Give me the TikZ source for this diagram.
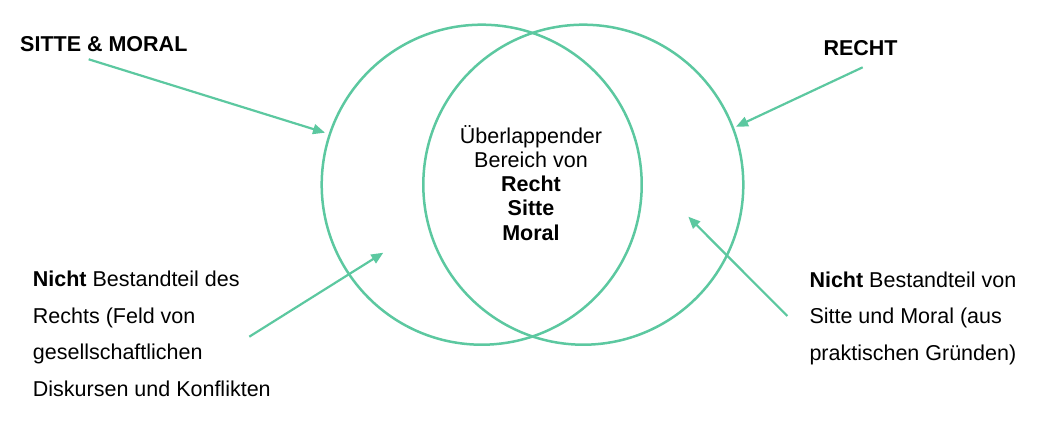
\documentclass[tikz,border=0pt]{standalone}
\usepackage{fontspec}
\setmainfont{Liberation Sans}
\usetikzlibrary{arrows.meta}
\definecolor{venn}{RGB}{92,200,160}
\begin{document}
\begin{tikzpicture}[x=1pt,y=-1pt,
  ring/.style={draw=venn,line width=2.5pt,circle,minimum size=320pt,inner sep=0pt},
  pointer/.style={draw=venn,line width=2.2pt,-{Triangle[length=12pt,width=10pt]}},
  title/.style={font=\fontsize{21.5}{26}\selectfont\bfseries,inner sep=0pt},
  note/.style={font=\fontsize{21.5}{36.8}\selectfont,align=left,inner sep=0pt},
  centre/.style={font=\fontsize{21.5}{24.2}\selectfont,align=center,inner sep=0pt}]
\useasboundingbox (0,0) rectangle (1040,422);
\node[ring] (L) at (481.7,184.7) {};
\node[ring] (R) at (583.3,184.7) {};
\node[title,anchor=base west] (sm) at (20,51.7) {SITTE \& MORAL};
\node[title,anchor=base west] (re) at (823.3,55.7) {RECHT};
\node[centre,anchor=base] (ov) at (531,240) {Überlappender\\Bereich von\\\textbf{Recht}\\\textbf{Sitte}\\\textbf{Moral}};
\node[note,anchor=base west] (nl) at (32.7,396.7) {\textbf{Nicht} Bestandteil des\\Rechts (Feld von\\gesellschaftlichen\\Diskursen und Konflikten};
\node[note,anchor=base west] (nr) at (809.3,360.7) {\textbf{Nicht} Bestandteil von\\Sitte und Moral (aus\\praktischen Gründen)};
\coordinate (smS) at (88.7,59.3);
\coordinate (smE) at (325,132.7);
\coordinate (reS) at (862.7,67.3);
\coordinate (reE) at (736,126.7);
\coordinate (nlS) at (249.3,336.7);
\coordinate (nlE) at (383.3,252.7);
\coordinate (nrS) at (787.3,316);
\coordinate (nrE) at (688.3,216.7);
\draw[pointer] (smS) -- (smE);
\draw[pointer] (reS) -- (reE);
\draw[pointer] (nlS) -- (nlE);
\draw[pointer] (nrS) -- (nrE);
\end{tikzpicture}
\end{document}
